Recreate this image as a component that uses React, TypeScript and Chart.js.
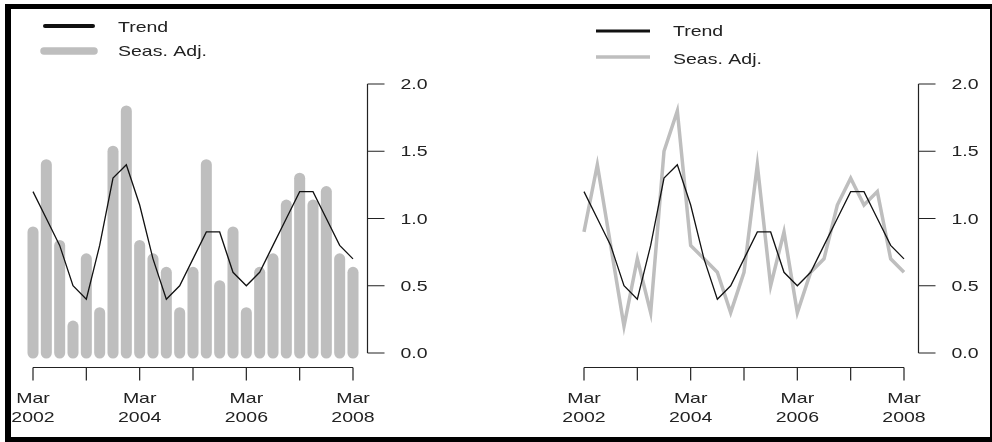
import React, { useEffect, useRef } from "react";
import { Chart, registerables } from "chart.js";

Chart.register(...registerables);

// ---------- data ----------
const quarters = [
  "Mar 2002", "Jun 2002", "Sep 2002", "Dec 2002",
  "Mar 2003", "Jun 2003", "Sep 2003", "Dec 2003",
  "Mar 2004", "Jun 2004", "Sep 2004", "Dec 2004",
  "Mar 2005", "Jun 2005", "Sep 2005", "Dec 2005",
  "Mar 2006", "Jun 2006", "Sep 2006", "Dec 2006",
  "Mar 2007", "Jun 2007", "Sep 2007", "Dec 2007",
  "Mar 2008",
];
const seasAdj = [0.9, 1.4, 0.8, 0.2, 0.7, 0.3, 1.5, 1.8, 0.8, 0.7, 0.6, 0.3, 0.6, 1.4, 0.5, 0.9, 0.3, 0.6, 0.7, 1.1, 1.3, 1.1, 1.2, 0.7, 0.6];
const trend = [1.2, 1.0, 0.8, 0.5, 0.4, 0.8, 1.3, 1.4, 1.1, 0.7, 0.4, 0.5, 0.7, 0.9, 0.9, 0.6, 0.5, 0.6, 0.8, 1.0, 1.2, 1.2, 1.0, 0.8, 0.7];
const xTickCategories = ["Mar 2002", "Mar 2003", "Mar 2004", "Mar 2005", "Mar 2006", "Mar 2007", "Mar 2008"];
const xTickLabels = [["Mar", "2002"], [], ["Mar", "2004"], [], ["Mar", "2006"], [], ["Mar", "2008"]];
const yTicks = [0, 0.5, 1.0, 1.5, 2.0];
const yTickLabels = ["0.0", "0.5", "1.0", "1.5", "2.0"];
const seriesLabels = ["Trend", "Seas. Adj."];

// ---------- styling helpers ----------
const FONT = "15px 'Liberation Sans', Arial, sans-serif";
const TEXT_COLOR = "#222";
const SX = 1.3; // horizontal stretch of the reference text
const GRAY = "#bebebe";

function drawText(ctx: CanvasRenderingContext2D, s: string, x: number, y: number, align: CanvasTextAlign) {
  ctx.save();
  ctx.translate(x, y);
  ctx.scale(SX, 1);
  ctx.textAlign = align;
  ctx.textBaseline = "middle";
  ctx.fillText(s, 0, 0);
  ctx.restore();
}

// R-style detached axes drawn from the chart's own scales
const rAxesPlugin = {
  id: "rAxes",
  afterDraw(chart: any, _args: any, opts: any) {
    const { ctx } = chart;
    const xs = chart.scales.x;
    const ys = chart.scales.y;
    ctx.save();
    ctx.strokeStyle = TEXT_COLOR;
    ctx.fillStyle = TEXT_COLOR;
    ctx.lineWidth = 1.2;
    ctx.font = FONT;

    // x axis
    const axY = Math.round(ys.getPixelForValue(ys.min) + opts.gap) + 0.5;
    const px = xTickCategories.map((c) => xs.getPixelForValue(quarters.indexOf(c)));
    ctx.beginPath();
    ctx.moveTo(px[0], axY);
    ctx.lineTo(px[px.length - 1], axY);
    px.forEach((p) => {
      ctx.moveTo(p, axY);
      ctx.lineTo(p, axY + opts.xTickLen);
    });
    ctx.stroke();
    xTickLabels.forEach((lines, i) =>
      lines.forEach((l, j) => drawText(ctx, l, px[i], axY + opts.xLabelOffset + j * opts.lineHeight, "center"))
    );

    // y axis (right side)
    const axX = Math.round(xs.getPixelForValue(xs.max) + opts.gap) + 0.5;
    const py = yTicks.map((v) => ys.getPixelForValue(v));
    ctx.beginPath();
    ctx.moveTo(axX, py[0]);
    ctx.lineTo(axX, py[py.length - 1]);
    py.forEach((p) => {
      ctx.moveTo(axX, p);
      ctx.lineTo(axX + opts.yTickLen, p);
    });
    ctx.stroke();
    yTickLabels.forEach((l, i) => drawText(ctx, l, axX + opts.yLabelOffset, py[i] + 1, "left"));
    ctx.restore();
  },
};

// legend drawn from the datasets' labels and colours
const rLegendPlugin = {
  id: "rLegend",
  afterDraw(chart: any, _args: any, opts: any) {
    const { ctx } = chart;
    opts.items.forEach((it: any) => {
      const ds = chart.data.datasets[it.datasetIndex];
      ctx.save();
      ctx.strokeStyle = ds.type === "bar" ? ds.backgroundColor : ds.borderColor;
      ctx.lineWidth = it.width;
      ctx.lineCap = it.cap;
      ctx.beginPath();
      ctx.moveTo(it.x1, it.y);
      ctx.lineTo(it.x2, it.y);
      ctx.stroke();
      ctx.fillStyle = TEXT_COLOR;
      ctx.font = FONT;
      drawText(ctx, ds.label, opts.textX, it.y + it.textDy, "left");
      ctx.restore();
    });
  },
};

// bars drawn as thick round-capped segments (R type="h" style) using bar element geometry
const roundBarsPlugin = {
  id: "roundBars",
  beforeDatasetDraw(chart: any, args: any) {
    const meta = args.meta;
    if (meta.type !== "bar") return;
    const { ctx } = chart;
    const ds = chart.data.datasets[args.index];
    ctx.save();
    ctx.strokeStyle = ds.backgroundColor;
    ctx.lineCap = "round";
    meta.data.forEach((el: any) => {
      const { x, y, base, width } = el.getProps(["x", "y", "base", "width"], true);
      ctx.lineWidth = width;
      ctx.beginPath();
      ctx.moveTo(x, base);
      ctx.lineTo(x, y);
      ctx.stroke();
    });
    ctx.restore();
    return false;
  },
};

const axisOpts = { gap: 14, xTickLen: 13, xLabelOffset: 31, lineHeight: 19, yTickLen: 17, yLabelOffset: 33 };

function baseOptions(padding: any, legend: any): any {
  return {
    responsive: false,
    animation: false,
    devicePixelRatio: 1,
    events: [],
    layout: { padding },
    scales: {
      x: { type: "category", offset: false, display: false },
      y: { type: "linear", min: 0, max: 2, display: false },
    },
    plugins: {
      legend: { display: false },
      tooltip: { enabled: false },
      rAxes: axisOpts,
      rLegend: legend,
    },
  };
}

export default function App() {
  const leftRef = useRef<HTMLCanvasElement | null>(null);
  const rightRef = useRef<HTMLCanvasElement | null>(null);

  useEffect(() => {
    const left = new Chart(leftRef.current as HTMLCanvasElement, {
      type: "bar",
      data: {
        labels: quarters,
        datasets: [
          {
            type: "line",
            label: seriesLabels[0],
            data: trend,
            borderColor: "#111",
            borderWidth: 1.3,
            pointRadius: 0,
            tension: 0,
            order: 0,
            clip: false,
          } as any,
          {
            type: "bar",
            label: seriesLabels[1],
            data: seasAdj,
            backgroundColor: GRAY,
            barThickness: 11,
            order: 1,
            clip: false,
          } as any,
        ],
      },
      options: baseOptions(
        { left: 33, right: 127, top: 84, bottom: 89 },
        {
          textX: 118,
          items: [
            { datasetIndex: 0, x1: 45, x2: 93, y: 26, width: 4, cap: "round", textDy: 2 },
            { datasetIndex: 1, x1: 44, x2: 94, y: 51, width: 7.5, cap: "round", textDy: 1 },
          ],
        }
      ),
      plugins: [roundBarsPlugin, rAxesPlugin, rLegendPlugin],
    });

    const right = new Chart(rightRef.current as HTMLCanvasElement, {
      type: "line",
      data: {
        labels: quarters,
        datasets: [
          {
            label: seriesLabels[0],
            data: trend,
            borderColor: "#111",
            borderWidth: 1.3,
            pointRadius: 0,
            tension: 0,
            order: 0,
            clip: false,
          } as any,
          {
            label: seriesLabels[1],
            data: seasAdj,
            borderColor: GRAY,
            borderWidth: 3.5,
            pointRadius: 0,
            tension: 0,
            order: 1,
            clip: false,
          } as any,
        ],
      },
      options: baseOptions(
        { left: 104, right: 88, top: 84, bottom: 89 },
        {
          textX: 193,
          items: [
            { datasetIndex: 0, x1: 116, x2: 170, y: 31, width: 3, cap: "butt", textDy: 1 },
            { datasetIndex: 1, x1: 116, x2: 170, y: 57, width: 3.5, cap: "butt", textDy: 3 },
          ],
        }
      ),
      plugins: [rAxesPlugin, rLegendPlugin],
    });

    return () => {
      left.destroy();
      right.destroy();
    };
  }, []);

  return (
    <div style={{ position: "absolute", left: 0, top: 0, width: 992, height: 442, background: "#fff", overflow: "hidden" }}>
      <canvas ref={leftRef} width={480} height={442} style={{ position: "absolute", left: 0, top: 0, width: 480, height: 442 }} />
      <canvas ref={rightRef} width={512} height={442} style={{ position: "absolute", left: 480, top: 0, width: 512, height: 442 }} />
      <div
        style={{
          position: "absolute",
          left: 5,
          top: 4,
          width: 987,
          height: 438,
          boxSizing: "border-box",
          borderStyle: "solid",
          borderColor: "#000",
          borderTopWidth: 5,
          borderLeftWidth: 6,
          borderBottomWidth: 5,
          borderRightWidth: 2,
          pointerEvents: "none",
        }}
      />
    </div>
  );
}
